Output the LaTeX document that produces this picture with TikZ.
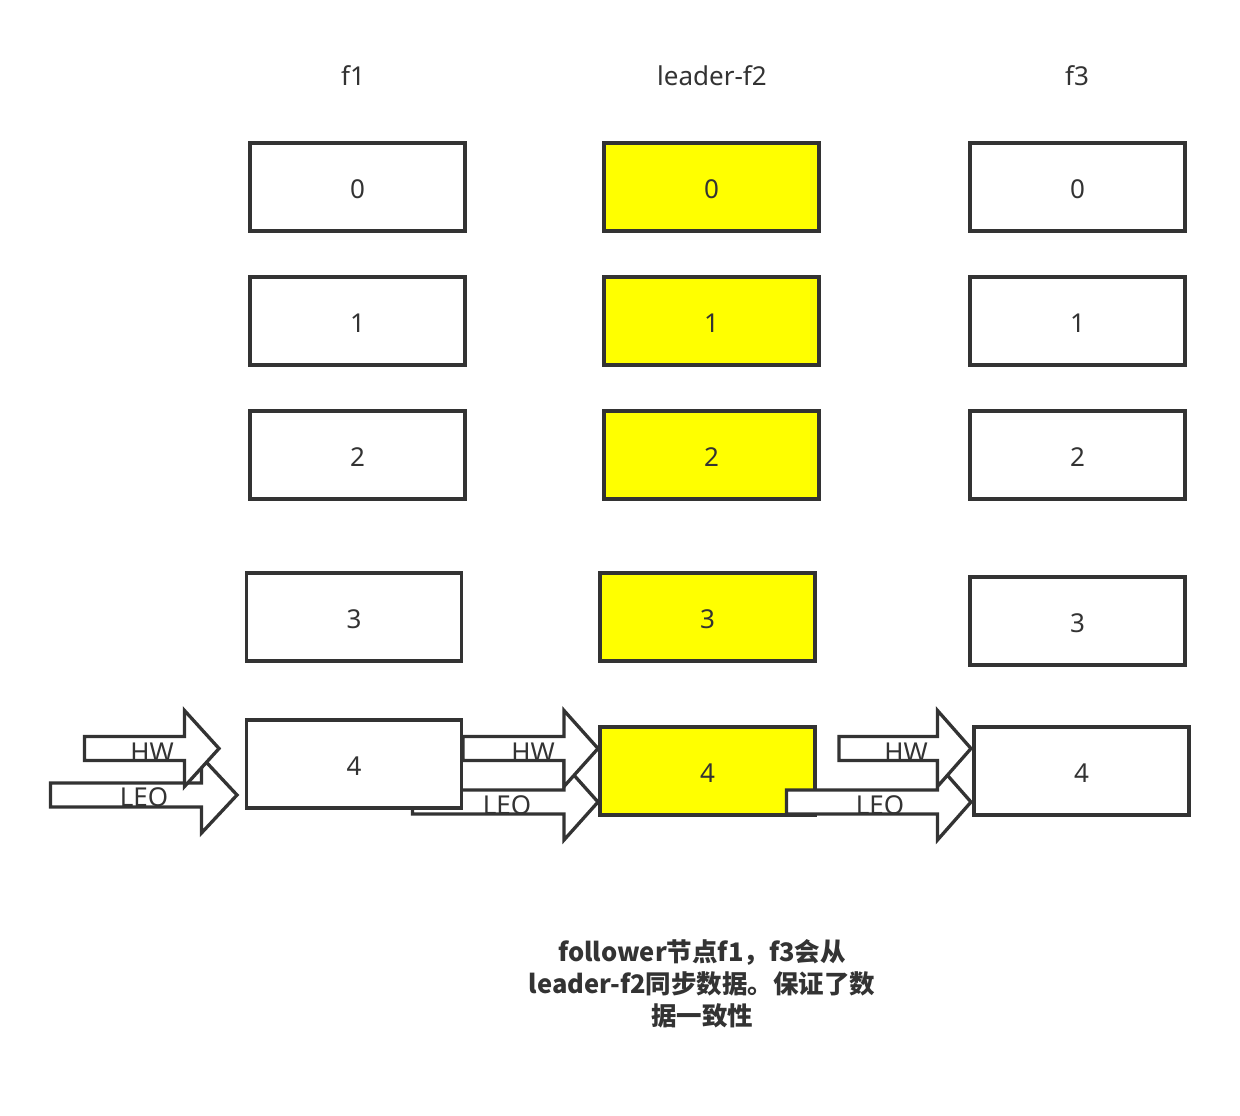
\documentclass[tikz,border=0pt]{standalone}
\usepackage{fontspec}
\setmainfont{Noto Sans}
\newfontfamily\cjk{Noto Sans CJK SC}
\definecolor{linec}{HTML}{333333}
\definecolor{hl}{HTML}{FFFF00}
\newcommand\dg[1]{\raisebox{-2.5pt}[\height][\depth]{#1}}
\begin{document}
\begin{tikzpicture}[x=1pt,y=-1pt,
  cell/.style={draw=linec, line width=3.3pt, fill=white, minimum width=215pt, minimum height=88pt, inner sep=0pt, text=linec, font=\fontsize{26}{30}\selectfont},
  lead/.style={cell, fill=hl},
  head/.style={text=linec, font=\fontsize{26}{30}\selectfont, inner sep=0pt},
  barrow/.style={draw=linec, line width=3.3pt, fill=white, line join=miter},
  lbl/.style={text=linec, font=\fontsize{26}{30}\selectfont, inner sep=0pt},
  note/.style={text=linec, font=\cjk\bfseries\fontsize{25.5}{32}\selectfont, align=center, inner sep=0pt}]
\fill[white] (0,0) rectangle (1240,1116);
\useasboundingbox (0,0) rectangle (1240,1116);

% column headers
\node[head] (h1) at (353,76) {f1};
\node[head] (h2) at (712,76) {leader-f2};
\node[head] (h3) at (1077,76) {f3};

% arrows into f1
\draw[barrow] (50.5,783) -- (201.5,783) -- (201.5,757) -- (237,795) -- (201.5,833) -- (201.5,807) -- (50.5,807) -- cycle;
\draw[barrow] (84.5,736.5) -- (184.5,736.5) -- (184.5,710.5) -- (219,748.5) -- (184.5,786.5) -- (184.5,760.5) -- (84.5,760.5) -- cycle;
\node[lbl] (hw1) at (152,752) {HW};
\node[lbl] (leo1) at (144,797.5) {LEO};

% arrows into f2
\draw[barrow] (412.5,790) -- (564,790) -- (564,764) -- (598,802) -- (564,840) -- (564,814) -- (412.5,814) -- cycle;
\draw[barrow] (463,736.5) -- (564,736.5) -- (564,710.5) -- (598,748.5) -- (564,786.5) -- (564,760.5) -- (463,760.5) -- cycle;
\node[lbl] (hw2) at (533,752) {HW};
\node[lbl] (leo2) at (507,805) {LEO};

% f1 column
\node[cell] (a0) at (357.5,187) {\dg{0}};
\node[cell] (a1) at (357.5,321) {\dg{1}};
\node[cell] (a2) at (357.5,455) {\dg{2}};
\node[cell] (a3) at (354,617) {\dg{3}};
\node[cell] (a4) at (354,764) {\dg{4}};

% f2 column (leader)
\node[lead] (b0) at (711.5,187) {\dg{0}};
\node[lead] (b1) at (711.5,321) {\dg{1}};
\node[lead] (b2) at (711.5,455) {\dg{2}};
\node[lead] (b3) at (707.5,617) {\dg{3}};
\node[lead] (b4) at (707.5,771) {\dg{4}};

% arrows into f3
\draw[barrow] (786.5,790) -- (937.5,790) -- (937.5,764) -- (971,802) -- (937.5,840) -- (937.5,814) -- (786.5,814) -- cycle;
\draw[barrow] (839,736.5) -- (937.5,736.5) -- (937.5,710.5) -- (971,748.5) -- (937.5,786.5) -- (937.5,760.5) -- (839,760.5) -- cycle;
\node[lbl] (hw3) at (906,752) {HW};
\node[lbl] (leo3) at (880,805) {LEO};

% f3 column
\node[cell] (c0) at (1077.5,187) {\dg{0}};
\node[cell] (c1) at (1077.5,321) {\dg{1}};
\node[cell] (c2) at (1077.5,455) {\dg{2}};
\node[cell] (c3) at (1077.5,621) {\dg{3}};
\node[cell] (c4) at (1081.5,771) {\dg{4}};

% note
\node[note] (n) at (702,984) {follower节点f1，f3会从\\leader-f2同步数据。保证了数\\据一致性};
\end{tikzpicture}
\end{document}
